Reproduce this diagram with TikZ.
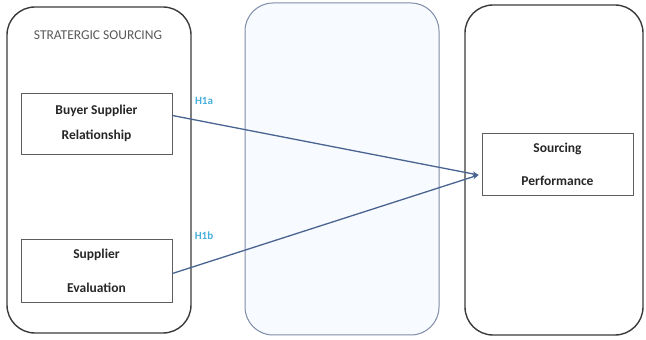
\documentclass[tikz,border=0pt]{standalone}
\usepackage{fontspec}
\setmainfont{Carlito}
\usetikzlibrary{positioning,arrows.meta}
\definecolor{panelline}{HTML}{3A3A3A}
\definecolor{midline}{HTML}{7F8CA8}
\definecolor{midfill}{HTML}{F7FAFE}
\definecolor{boxline}{HTML}{5E5E5E}
\definecolor{linkblue}{HTML}{4A6491}
\definecolor{hypblue}{HTML}{45AEDC}
\tikzset{
  panel/.style={draw=panelline, line width=1.4pt, rounded corners=28pt},
  varbox/.style={draw=boxline, line width=0.8pt, minimum width=151pt, align=center,
    font=\fontsize{13.5}{15}\selectfont\bfseries, text=black!85, inner sep=0pt},
  link/.style={draw=linkblue, line width=1.3pt, -{Stealth[length=6pt,width=5pt]}},
  hyp/.style={text=hypblue, font=\fontsize{11}{12}\selectfont\bfseries}
}
\begin{document}
\begin{tikzpicture}[x=1pt,y=1pt]
\useasboundingbox (0,0) rectangle (646,340);
% the three columns
\node [panel, minimum width=184pt, minimum height=326pt] (strat) at (99,170) {};
\node [draw=midline, fill=midfill, line width=1pt, rounded corners=28pt,
       minimum width=194pt, minimum height=332pt] (mid) at (342,171) {};
\node [panel, minimum width=178pt, minimum height=330pt] (perf) at (554,170) {};
\node [text=black!65, font=\fontsize{13.5}{15}\selectfont] (title) at (98,305) {STRATERGIC SOURCING};
% variables
\node [varbox, minimum height=61pt] (bsr) at (96.5,216.5) {Buyer Supplier\\[10pt]Relationship};
\node [varbox, minimum height=63pt] (se) at (96.5,69.5) {Supplier\\[19pt]Evaluation};
\node [varbox, minimum height=62pt] (sp) at (557.5,176) {Sourcing\\[18pt]Performance};
% hypotheses
\coordinate (tip) at ([xshift=-3pt,yshift=-11pt]sp.west);
\draw [link] ([yshift=8pt]bsr.east) -- (tip);
\draw [link] ([yshift=-3pt]se.east) -- (tip);
\node [hyp] (h1a) at (204,239) {H1a};
\node [hyp] (h1b) at (204,104) {H1b};
\end{tikzpicture}
\end{document}
